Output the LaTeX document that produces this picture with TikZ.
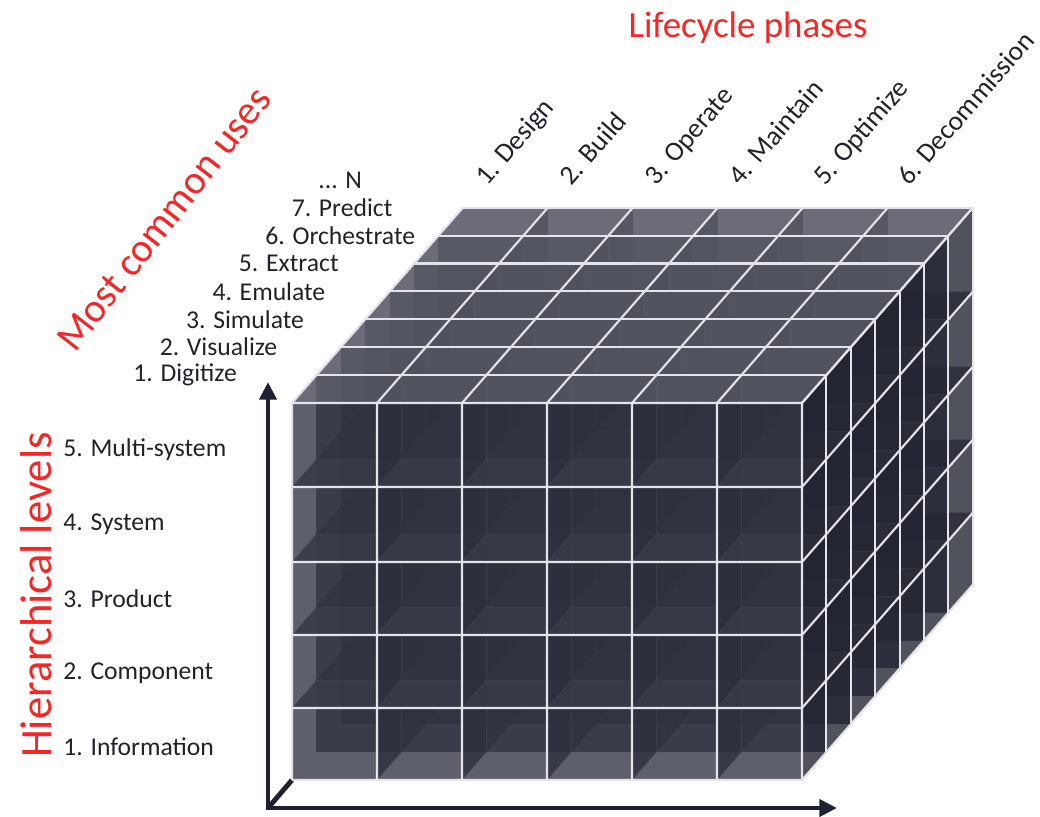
\documentclass[tikz,border=0pt]{standalone}
\usepackage{fontspec}
\setmainfont{Carlito}
\usetikzlibrary{arrows.meta}

\definecolor{cubefront}{RGB}{48,50,64}
\definecolor{cubetop}{RGB}{86,88,100}
\definecolor{cubeside}{RGB}{32,34,46}
\definecolor{gridline}{RGB}{228,229,235}
\definecolor{axisnavy}{RGB}{30,33,50}
\definecolor{titlered}{RGB}{245,38,38}
\definecolor{labelink}{RGB}{34,34,44}

\tikzset{
  cellface/.style={draw=white, draw opacity=0.14, line width=0.4pt, fill opacity=0.78},
  topface/.style={cellface, fill=cubetop, fill opacity=0.88},
  gridedge/.style={draw=gridline, line width=1.2pt},
  axisarrow/.style={draw=axisnavy, line width=2.8pt,
    {Triangle[length=10pt,width=9.5pt]}-{Triangle[length=10pt,width=9.5pt]}},
  levellabel/.style={font=\fontsize{14.6}{17}\selectfont, text=labelink, inner sep=0pt},
  phaselabel/.style={levellabel, font=\fontsize{15.6}{18}\selectfont, rotate=49, anchor=base west},
  titlelabel/.style={font=\fontsize{21}{25}\selectfont, text=titlered, inner sep=0pt},
}

\begin{document}
\begin{tikzpicture}[x=0.02cm, y=-0.02cm]

    \useasboundingbox (0,0) rectangle (1040,817);

    % --- Define Coordinates ---
    % Corner where the axes meet
    \coordinate (origin) at (268,808);
    % Front bottom-left corner of the cube
    \coordinate (cubeFBL) at (292,780);
    % Arrow tips
    \coordinate (ytip) at (268,382);
    \coordinate (xtip) at (837,808);

    % --- Draw Axes ---
    % Depth axis, running behind the cube
    \draw[draw=axisnavy, line width=2.8pt] (origin) -- (cubeFBL);
    \draw[axisarrow] (ytip) -- (origin) -- (xtip);

    % --- Draw Cube Cells ---
    % Seven depth layers, back to front, each a 6 x 5 block of see-through boxes
    \foreach \d in {6,5,...,0} {
      \begin{scope}[shift={(24.4*\d,-27.9*\d)}]
        \foreach \yb/\yt in {780/708,708/635,635/562,562/487,487/403} {
          \foreach \i in {0,...,5} {
            \pgfmathsetmacro{\xl}{292+85*\i}
            \pgfmathsetmacro{\xr}{377+85*\i}
            \path[cellface, fill=cubeside] (\xr,\yb) -- (\xr,\yt) -- ++(24.4,-27.9) -- (\xr+24.4,\yb-27.9) -- cycle;
            \path[topface] (\xl,\yt) -- (\xr,\yt) -- ++(24.4,-27.9) -- (\xl+24.4,\yt-27.9) -- cycle;
            \path[cellface, fill=cubefront] (\xl,\yb) rectangle (\xr,\yt);
          }
        }
      \end{scope}
    }

    % --- Draw Grid Edges ---
    % Column lines: down the front face, then back over the top
    \foreach \i in {0,...,6}
      \draw[gridedge] (292+85*\i,780) -- (292+85*\i,403) -- ++(170.8,-195.3);
    % Row lines: across the front face, then back along the right face
    \foreach \y in {780,708,635,562,487,403}
      \draw[gridedge] (292,\y) -- (802,\y) -- ++(170.8,-195.3);
    % Depth lines: across the top, then down the right face
    \foreach \d in {1,...,7}
      \draw[gridedge] (292+24.4*\d,403-27.9*\d) -- (802+24.4*\d,403-27.9*\d) -- ++(0,377);

    % --- Place Labels ---
    % Axis titles
    \node[titlelabel] (lifecycle) at (748,28) {Lifecycle phases};
    \node[titlelabel, font=\fontsize{25.4}{30}\selectfont, rotate=90] (hierarchy) at (36,595) {Hierarchical levels};
    \node[titlelabel, font=\fontsize{23}{27}\selectfont, rotate=52] (uses) at (164,219) {Most common uses};

    % Lifecycle phases along the top
    \foreach \name [count=\i from 0] in {1. Design, 2. Build, 3. Operate, 4. Maintain, 5. Optimize, 6. Decommission}
      \node[phaselabel] (phase\i) at (487+84.5*\i,187) {\name};

    % Uses stepping back with the depth layers
    \foreach \name [count=\k from 0] in {1. Digitize, 2. Visualize, 3. Simulate, 4. Emulate, 5. Extract, 6. Orchestrate, 7. Predict}
      \node[levellabel, anchor=west] (use\k) at (133+26.4*\k,375-27.9*\k) {\name};
    \node[levellabel, anchor=west] (useN) at (318,180) {... N};

    % Hierarchical levels beside the front face
    \foreach \name/\y [count=\j] in {1. Information/747, 2. Component/673, 3. Product/599, 4. System/524, 5. Multi-system/450}
      \node[levellabel, anchor=west] (level\j) at (63,\y) {\name};

\end{tikzpicture}
\end{document}
